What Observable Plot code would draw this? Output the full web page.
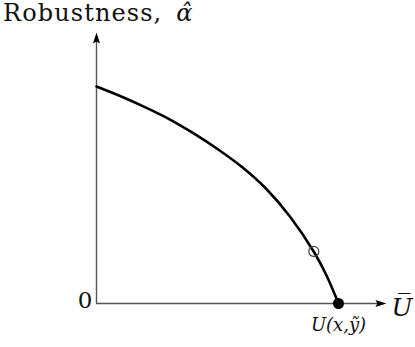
<!DOCTYPE html>
<html>
<head>
<meta charset="utf-8">
<script src="https://cdn.jsdelivr.net/npm/d3@7"></script>
<script src="https://cdn.jsdelivr.net/npm/@observablehq/plot@0.6"></script>
<style>
  html, body { margin: 0; padding: 0; background: #fff; }
  #title { height: 28px; box-sizing: border-box; padding-top: 1px; line-height: 24px; font-family: "DejaVu Serif", serif; font-size: 24px; letter-spacing: 1.1px; padding-left: 3px; white-space: nowrap; color: #111; }
  #title i { margin-left: 14px; letter-spacing: 0; }
  svg { display: block; }
</style>
</head>
<body>
<div id="title"></div>
<div id="chart"></div>
<script>
// ---- data (U normalised to the end point, alpha to the intercept) ----
const curveU     = [0, 0.1, 0.2, 0.3, 0.4, 0.5, 0.6, 0.7, 0.8, 0.9, 0.95, 1];
const curveAlpha = [1, 0.955, 0.905, 0.850, 0.785, 0.712, 0.630, 0.530, 0.400, 0.235, 0.130, 0];
const openPointU = [0.898];
const openPointAlpha = [0.240];
const endPointU = [1];
const endPointAlpha = [0];
const axisMaxU = [1.198];
const axisMaxAlpha = [1.249];
// ---- text ----
const yLabelText = "Robustness,";
const yLabelSymbol = "\u03B1\u0302";
const xLabelText = "U\u0305";
const endPointLabel = "U(x,\u1EF9)";
const originLabel = "0";

document.getElementById("title").innerHTML = yLabelText + "<i>" + yLabelSymbol + "</i>";

const curve = curveU.map((u, i) => ({u, alpha: curveAlpha[i]}));
const openPts = openPointU.map((u, i) => ({u, alpha: openPointAlpha[i]}));
const endPts = endPointU.map((u, i) => ({u, alpha: endPointAlpha[i], label: endPointLabel}));

const stealth = {
  draw(context, size) {
    const L = Math.sqrt(size / Math.PI);
    const w = L * 0.32;
    context.moveTo(0, 0);
    context.lineTo(w, L);
    context.lineTo(0, L * 0.82);
    context.lineTo(-w, L);
    context.closePath();
  }
};

const axisColor = "#555";
const fontFamily = "DejaVu Serif, serif";

const chart = Plot.plot({
  width: 415,
  height: 319,
  marginLeft: 96,
  marginRight: 77,
  marginTop: 58,
  marginBottom: 44,
  x: {domain: [0, 1], axis: null},
  y: {domain: [0, 1], axis: null},
  style: {fontFamily, background: "white", overflow: "visible"},
  marks: [
    Plot.ruleY([0], {x1: 0, x2: axisMaxU[0] - 0.03, stroke: axisColor, strokeWidth: 1.4}),
    Plot.ruleX([0], {y1: 0, y2: axisMaxAlpha[0] - 0.03, stroke: axisColor, strokeWidth: 1.4}),
    Plot.dot(axisMaxU.map(u => ({u, alpha: 0})), {x: "u", y: "alpha", symbol: stealth, r: 11, rotate: 90, fill: "black", stroke: "none"}),
    Plot.dot(axisMaxAlpha.map(a => ({u: 0, alpha: a})), {x: "u", y: "alpha", symbol: stealth, r: 11, rotate: 0, fill: "black", stroke: "none"}),
    Plot.line(curve, {x: "u", y: "alpha", curve: "catmull-rom", stroke: "black", strokeWidth: 2.6}),
    Plot.dot(openPts, {x: "u", y: "alpha", r: 5, stroke: "#444", strokeWidth: 1.2, fill: "none"}),
    Plot.dot(endPts, {x: "u", y: "alpha", r: 5.5, fill: "black", stroke: "none"}),
    Plot.text(endPts, {x: "u", y: "alpha", text: "label", fontSize: 18, fontStyle: "italic", textAnchor: "middle", lineAnchor: "top", dy: 15, fill: "#111"}),
    Plot.text([originLabel], {x: [0], y: [0], text: d => d, fontSize: 23, textAnchor: "end", lineAnchor: "middle", dx: -4, dy: -3, fill: "#111"}),
    Plot.text([xLabelText], {x: axisMaxU, y: [0], text: d => d, fontSize: 25, fontStyle: "italic", textAnchor: "start", lineAnchor: "middle", dx: 5, dy: 4, fill: "#111"})
  ]
});
document.getElementById("chart").appendChild(chart);
</script>
</body>
</html>
